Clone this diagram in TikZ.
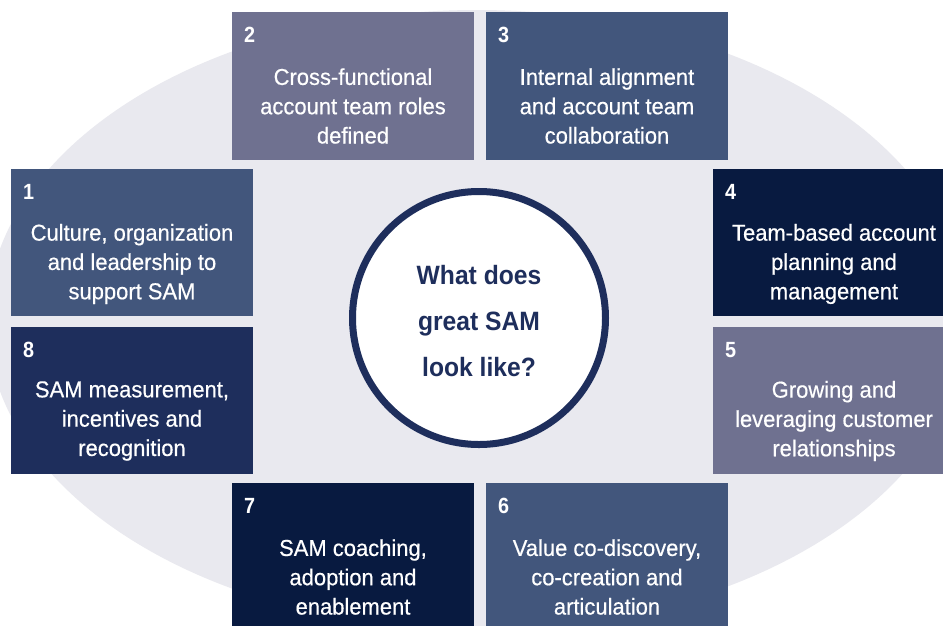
\documentclass[tikz,border=0pt]{standalone}
\usepackage{fontspec}
\setmainfont{Liberation Sans}
\newfontfamily\boxfont[FakeStretch=0.955,FakeBold=0.5]{Liberation Sans}
\newfontfamily\numfont[FakeStretch=0.9]{Liberation Sans}
\newfontfamily\hubfont[FakeStretch=0.93]{Liberation Sans}
\definecolor{ellgray}{HTML}{E9E9EF}
\definecolor{cPurple}{HTML}{6F7190}
\definecolor{cSlate}{HTML}{42567C}
\definecolor{cDark}{HTML}{081A40}
\definecolor{cNavy}{HTML}{1E2E5C}
\begin{document}
\begin{tikzpicture}[x=1pt,y=-1pt,
  boxtext/.style={text=white,align=center,font=\boxfont\fontsize{23}{29.3}\selectfont,inner sep=0pt},
  boxnum/.style={text=white,anchor=west,font=\numfont\bfseries\fontsize{22}{24}\selectfont,inner sep=0pt},
  centertext/.style={text=cNavy,align=center,font=\hubfont\bfseries\fontsize{26.5}{46}\selectfont,inner sep=0pt}]
\useasboundingbox (0,0) rectangle (943,625);
\fill[white] (0,0) rectangle (943,625);
\begin{scope}
\clip (0,0) rectangle (943,625);
\fill[ellgray] (477,320) ellipse [x radius=490, y radius=310];
% boxes
\fill[cPurple] (232,12) rectangle (474,160) coordinate (b2);
\fill[cSlate] (486,12) rectangle (728,160) coordinate (b3);
\fill[cSlate] (11,169) rectangle (253,316) coordinate (b1);
\fill[cDark] (713,169) rectangle (955,316) coordinate (b4);
\fill[cNavy] (11,327) rectangle (253,474) coordinate (b8);
\fill[cPurple] (713,327) rectangle (955,474) coordinate (b5);
\fill[cDark] (232,483) rectangle (474,640) coordinate (b7);
\fill[cSlate] (486,483) rectangle (728,640) coordinate (b6);
\end{scope}
% centre circle
\node[circle,draw=cNavy,line width=7pt,fill=white,minimum size=253pt,inner sep=0pt] (hub) at (479,318) {};
\node[centertext] (hubtext) at (479,321) {What does\\great SAM\\look like?};
% numbers
\node[boxnum] (n1) at (23,192) {1};
\node[boxnum] (n2) at (244,35) {2};
\node[boxnum] (n3) at (498,35) {3};
\node[boxnum] (n4) at (725,192) {4};
\node[boxnum] (n5) at (725,350) {5};
\node[boxnum] (n6) at (498,506) {6};
\node[boxnum] (n7) at (244,506) {7};
\node[boxnum] (n8) at (23,350) {8};
% texts
\node[boxtext] (t1) at (132,264) {Culture, organization\\and leadership to\\support SAM};
\node[boxtext] (t2) at (353,106) {Cross-functional\\account team roles\\defined};
\node[boxtext] (t3) at (607,106) {Internal alignment\\and account team\\collaboration};
\node[boxtext] (t4) at (834,264) {Team-based account\\planning and\\management};
\node[boxtext] (t5) at (834,421) {Growing and\\leveraging customer\\relationships};
\node[boxtext] (t6) at (607,577) {Value co-discovery,\\co-creation and\\articulation};
\node[boxtext] (t7) at (353,577) {SAM coaching,\\adoption and\\enablement};
\node[boxtext] (t8) at (132,421) {SAM measurement,\\incentives and\\recognition};
\end{tikzpicture}
\end{document}
